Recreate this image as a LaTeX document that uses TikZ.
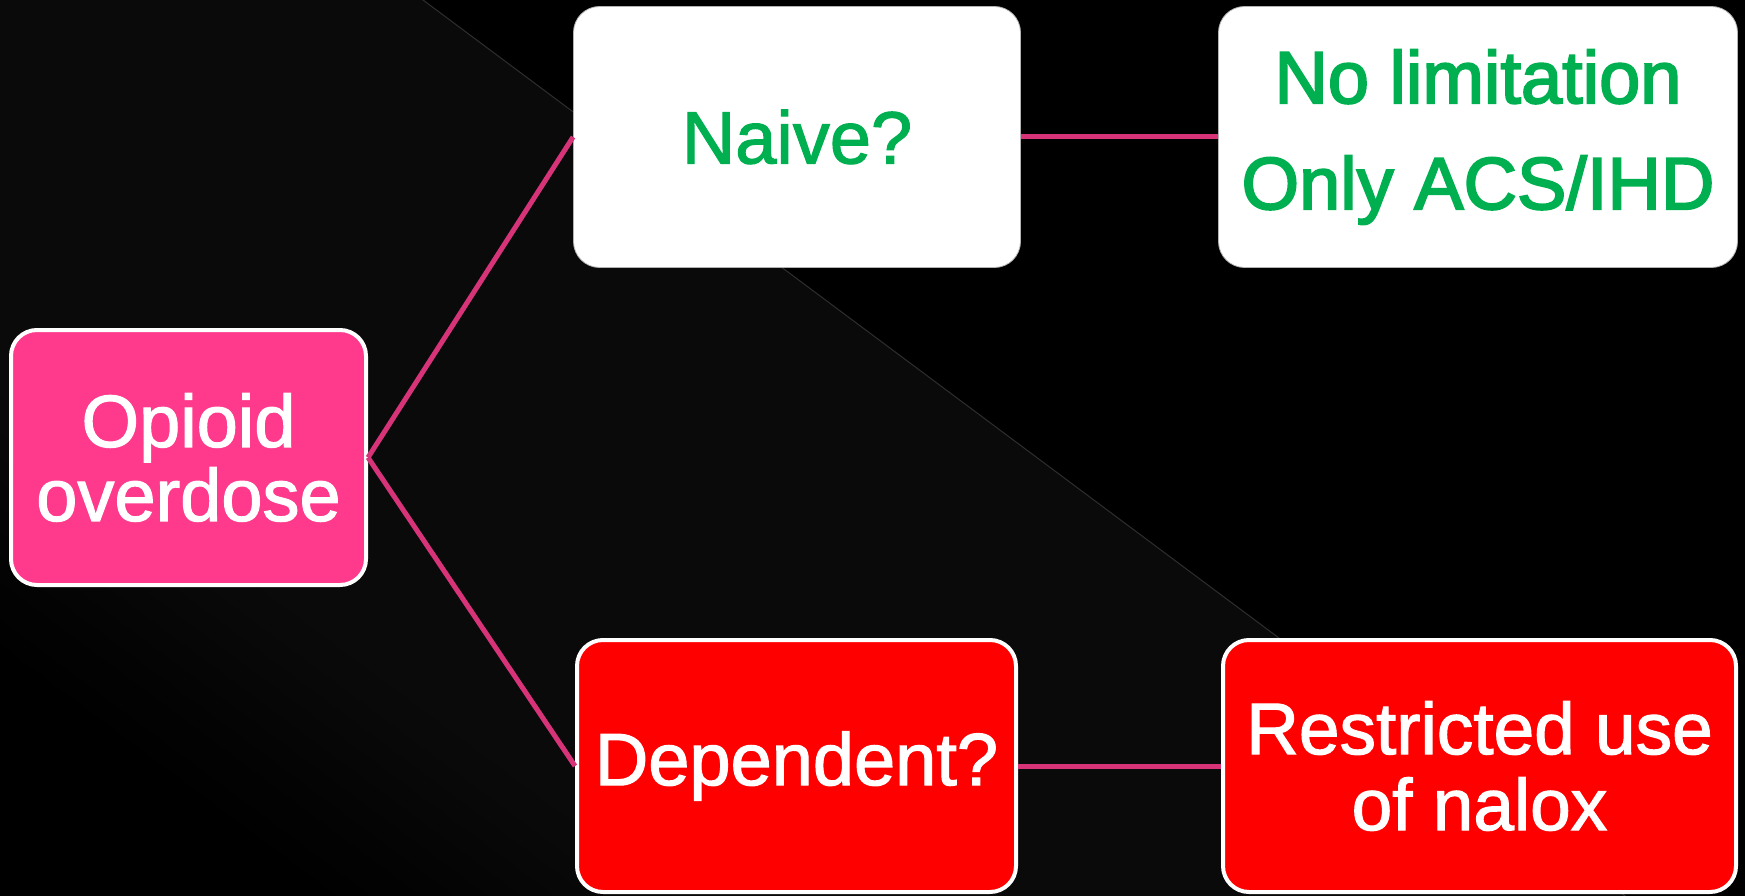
\documentclass[tikz,border=0pt]{standalone}
\usepackage{fontspec}
\setmainfont{Liberation Sans}
\newfontfamily\heavy{Liberation Sans}[FakeBold=1.6]
\newfontfamily\heavier{Liberation Sans}[FakeBold=2.6]
\definecolor{bandgray}{HTML}{0A0A0A}
\definecolor{pinkbox}{HTML}{FF3A8C}
\definecolor{greentxt}{HTML}{00B050}
\definecolor{conncol}{RGB}{214,51,120}
\definecolor{edgegray}{HTML}{2E2E2E}
\begin{document}
\begin{tikzpicture}[x=1pt,y=-1pt,
  box/.style={rounded corners=26, inner sep=0, align=center},
  whitebox/.style={box, fill=white, draw=gray!60, line width=0.8, text=greentxt},
  redbox/.style={box, fill=red, draw=white, line width=4, text=white},
  link/.style={draw=conncol, line width=5}]
\path[use as bounding box, fill=black] (0,0) rectangle (1745,896);
\begin{scope}
  \clip (0,0) rectangle (1745,896);
  \begin{scope}[shift={(423,0)}, rotate=-36.7]
    \fill[bandgray] (-1500,0) rectangle (2500,561);
    \foreach \i in {0,...,21} {
      \pgfmathsetmacro\p{100-\i*100/21}
      \fill[bandgray!\p!black] (-1500,{560+\i*10}) rectangle (2500,{571+\i*10});
    }
    \draw[edgegray, line width=1] (-1500,0) -- (2500,0);
  \end{scope}
\end{scope}
\node[redbox, fill=pinkbox, minimum width=355, minimum height=255,
      font=\heavy\fontsize{74}{74}\selectfont] (od) at (188.5,457.5) {Opioid\\overdose};
\node[whitebox, minimum width=447, minimum height=261,
      font=\heavy\fontsize{74}{74}\selectfont] (naive) at (797,137) {Naive?};
\node[whitebox, minimum width=519, minimum height=261,
      font=\heavier\fontsize{74}{106}\selectfont] (nolim) at (1478,137) {No limitation\\Only ACS/IHD};
\node[redbox, minimum width=439, minimum height=252,
      font=\heavy\fontsize{74}{74}\selectfont] (dep) at (796.5,766) {Dependent?};
\node[redbox, minimum width=513, minimum height=252,
      font=\heavy\fontsize{73}{76}\selectfont] (restr) at (1479.5,766) {Restricted use\\of nalox};
\draw[link] (od.east) -- (naive.west);
\draw[link] (od.east) -- (dep.west);
\draw[link] (naive.east) -- (nolim.west);
\draw[link] (dep.east) -- (restr.west);
\end{tikzpicture}
\end{document}
